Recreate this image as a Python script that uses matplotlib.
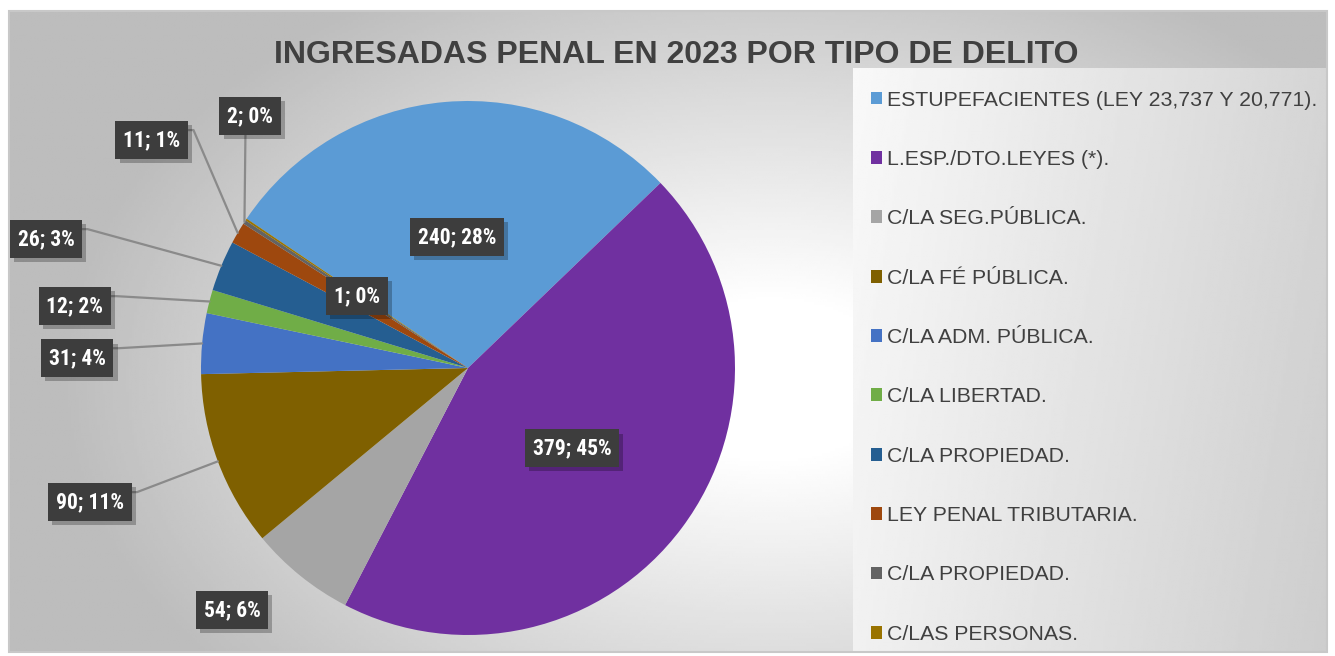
import numpy as np
import matplotlib
matplotlib.use("Agg")
import matplotlib.pyplot as plt
from matplotlib.patches import Rectangle
import matplotlib.patheffects as pe

# ---- data ----
categories = [
    "ESTUPEFACIENTES (LEY 23,737 Y 20,771).",
    "L.ESP./DTO.LEYES (*).",
    "C/LA SEG.PÚBLICA.",
    "C/LA FÉ PÚBLICA.",
    "C/LA ADM. PÚBLICA.",
    "C/LA LIBERTAD.",
    "C/LA PROPIEDAD.",
    "LEY PENAL TRIBUTARIA.",
    "C/LA PROPIEDAD.",
    "C/LAS PERSONAS.",
]
values = [240, 379, 54, 90, 31, 12, 26, 11, 2, 1]
percents = [28, 45, 6, 11, 4, 2, 3, 1, 0, 0]
colors = ["#5B9BD5", "#7030A0", "#A5A5A5", "#7F6000", "#4472C4",
          "#70AD47", "#255E91", "#9E480E", "#636363", "#997300"]
title = "INGRESADAS PENAL EN 2023 POR TIPO DE DELITO"

# label positions (pie data units, radius = 1) and leader style
label_pos = [(-0.041, 0.491), (0.390, -0.300), (-0.884, -0.906), (-1.416, -0.502),
             (-1.464, 0.037), (-1.472, 0.232), (-1.580, 0.483), (-1.184, 0.854),
             (-0.816, 0.944), (-0.416, 0.270)]
leader = [None, None, None, "side", "side", "side", "side", "side", "down", None]

W, H = 1335, 656
fig = plt.figure(figsize=(W / 100, H / 100), dpi=100)
fig.patch.set_facecolor("white")

# ---- background ----
bg = fig.add_axes([0, 0, 1, 1])
bg.set_xlim(0, W)
bg.set_ylim(H, 0)
bg.axis("off")
x0, x1, y0, y1 = 9, 1327, 11, 652
xx, yy = np.meshgrid(np.linspace(x0, x1, 500), np.linspace(y0, y1, 250))
d = np.sqrt(((xx - 770) / 800) ** 2 + ((yy - 380) / 520) ** 2)
img = np.clip(1.0 - 0.30 * np.clip(d - 0.15, 0, None) / 0.85, 0.74, 1.0)
bg.imshow(img, extent=[x0, x1, y1, y0], cmap="gray", vmin=0, vmax=1,
          aspect="auto", interpolation="bilinear", zorder=0)
bg.add_patch(Rectangle((x0, y0), x1 - x0, y1 - y0, fill=False,
                       edgecolor="#c8c8c8", lw=1.5, zorder=3))
# legend panel
lx0, ly0 = 853, 68
lxx, lyy = np.meshgrid(np.linspace(lx0, x1, 200), np.linspace(ly0, y1, 200))
limg = 0.975 - 0.14 * ((lxx - lx0) / (x1 - lx0)) - 0.03 * ((lyy - ly0) / (y1 - ly0))
bg.imshow(limg, extent=[lx0, x1, y1, ly0], cmap="gray", vmin=0, vmax=1,
          aspect="auto", interpolation="bilinear", zorder=1)

# ---- pie ----
cx, cy, r = 468, 368, 267
ax = fig.add_axes([(cx - r) / W, (H - cy - r) / H, 2 * r / W, 2 * r / H])
ax.set_facecolor("none")
wedges, _ = ax.pie(values, colors=colors, startangle=146, counterclock=False,
                   radius=1, wedgeprops=dict(linewidth=0))
ax.set_xlim(-1, 1)
ax.set_ylim(-1, 1)
ax.set_aspect("equal")
ax.axis("off")

lab_font = ["Liberation Sans Narrow", "Roboto Condensed", "Arial Narrow", "DejaVu Sans"]
for w, v, p, pos, ld in zip(wedges, values, percents, label_pos, leader):
    txt = f"{v}; {p}%"
    mid = np.deg2rad((w.theta1 + w.theta2) / 2)
    edge = (np.cos(mid), np.sin(mid))
    kw = dict(ha="center", va="center", color="white", fontsize=15.5,
              fontweight="bold", family=lab_font, fontstretch="condensed",
              bbox=dict(boxstyle="square,pad=0.36", facecolor="#3d3d3d",
                        edgecolor="none"),
              annotation_clip=False, zorder=5)
    if ld == "side":
        arrow = dict(arrowstyle="-", color="#8a8a8a", lw=1.6, shrinkA=0, shrinkB=0,
                     relpos=(1.0, 0.95),
                     connectionstyle="arc,angleA=0,armA=13,angleB=0,armB=0,rad=0")
        a = ax.annotate(txt, xy=edge, xytext=pos, arrowprops=arrow, **kw)
    elif ld == "down":
        arrow = dict(arrowstyle="-", color="#8a8a8a", lw=1.6, shrinkA=0, shrinkB=0,
                     relpos=(0.4, 0.0))
        a = ax.annotate(txt, xy=edge, xytext=pos, arrowprops=arrow, **kw)
    else:
        a = ax.annotate(txt, xy=pos, xytext=pos, **kw)
    a.get_bbox_patch().set_path_effects(
        [pe.SimplePatchShadow(offset=(3, -3), shadow_rgbFace="#000000", alpha=0.25),
         pe.Normal()])

# ---- title ----
fig.text(676 / W, 1 - 55 / H, title, ha="center", va="center", fontsize=23,
         fontweight="bold", color="#404040", family=["Liberation Sans", "DejaVu Sans"])

# ---- legend ----
leg = ax.legend(wedges, categories, loc="upper left",
                bbox_to_anchor=(862 / W, 1 - 82 / H), bbox_transform=fig.transFigure,
                frameon=False, fontsize=15.3, handlelength=0.55, handleheight=0.55,
                handletextpad=0.22, labelspacing=1.9, borderaxespad=0)
for t in leg.get_texts():
    t.set_color("#404040")
    t.set_family(["Liberation Sans", "DejaVu Sans"])

fig.savefig("out.png", dpi=100)
